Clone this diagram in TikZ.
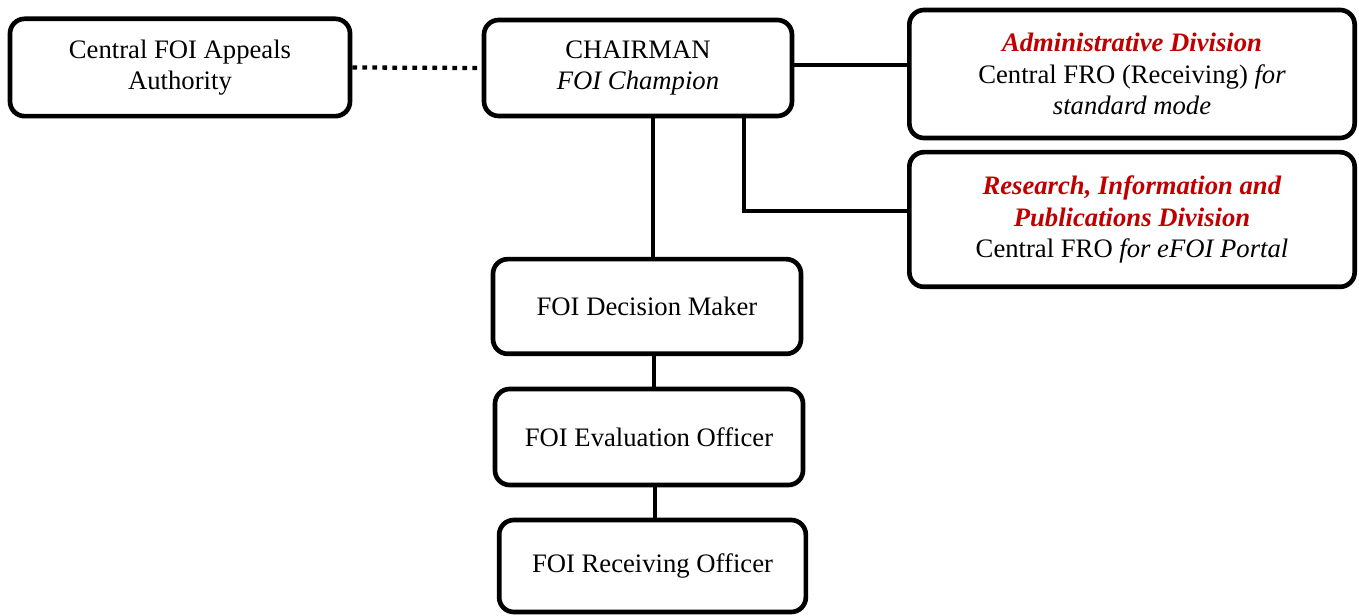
\documentclass[tikz,border=0pt]{standalone}
\usepackage{fontspec}
\setmainfont{Liberation Serif}
\usetikzlibrary{positioning}
\definecolor{divred}{RGB}{192,0,0}
\newcommand{\divname}[1]{\textcolor{divred}{\textbf{\textit{#1}}}}

\begin{document}
\begin{tikzpicture}[x=0.75pt,y=-0.75pt,
  office/.style={draw,line width=3.5pt,rounded corners=11pt,fill=white,align=center,
    font=\fontsize{20}{23.5}\selectfont,inner sep=2pt},
  link/.style={line width=3.5pt},
  dotline/.style={line width=3.2pt,dash pattern=on 3.5pt off 4pt}]
  \useasboundingbox (0,0) rectangle (1359,616);
  % top row
  \node[office,minimum width=255pt,minimum height=73pt] (appeals) at (180,67.5)
    {Central FOI Appeals\\Authority};
  \node[office,minimum width=231pt,minimum height=72pt] (chair) at (638,68)
    {CHAIRMAN\\\textit{FOI Champion}};
  \node[office,minimum width=334pt,minimum height=96pt] (admin) at (1132,74)
    {\divname{Administrative Division}\\Central FRO (Receiving) \textit{for}\\\textit{standard mode}};
  \node[office,minimum width=334pt,minimum height=101pt] (research) at (1132,219.5)
    {\divname{Research, Information and}\\\divname{Publications Division}\\Central FRO \textit{for eFOI Portal}};
  % chain below the chairman
  \node[office,minimum width=231pt,minimum height=71pt] (decision) at (647,306.5)
    {FOI Decision Maker};
  \node[office,minimum width=231pt,minimum height=72pt] (evaluation) at (649,437)
    {FOI Evaluation Officer};
  \node[office,minimum width=230pt,minimum height=69pt] (receiving) at (652.5,566)
    {FOI Receiving Officer};

  \draw[dotline] (appeals.east) -- (chair.west);
  \draw[link] ([yshift=2.2pt]chair.east) -- ([yshift=2.2pt]chair.east -| admin.west);
  \draw[link] ([xshift=11.2pt]chair.south) -- ([xshift=11.2pt]chair.south |- decision.north);
  \draw[link] ([xshift=79.5pt]chair.south) |- ([yshift=6.4pt]research.west);
  \draw[link] ([xshift=5.3pt]decision.south) -- ([xshift=5.3pt]decision.south |- evaluation.north);
  \draw[link] ([xshift=4.5pt]evaluation.south) -- ([xshift=4.5pt]evaluation.south |- receiving.north);
\end{tikzpicture}
\end{document}
